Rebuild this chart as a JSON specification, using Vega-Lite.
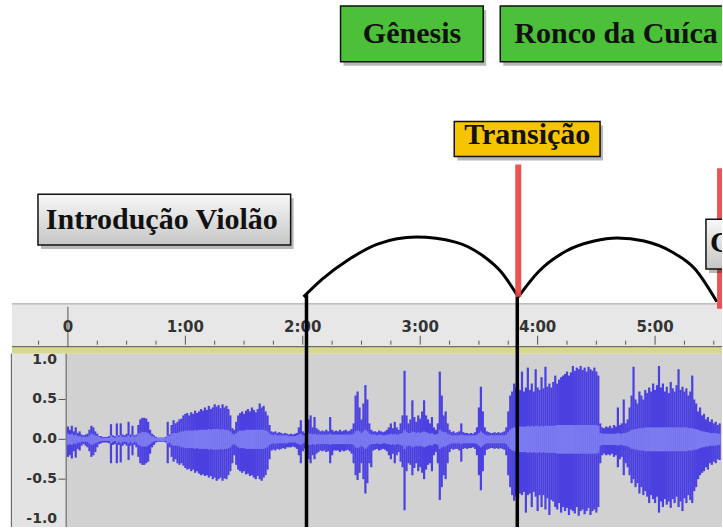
{
"$schema": "https://vega.github.io/schema/vega-lite/v6.json",
"width": 723, "height": 529, "padding": 0,
"autosize": {"type": "fit", "contains": "padding"},
"background": "white",
"config": {"view": {"stroke": null}},
"resolve": {"scale": {"fill": "independent", "color": "independent"}},
"datasets": {
"panels": [
{"k":"ruler","t":-28.6,"t2":334.2,"y":1.7,"y2":1.1625},
{"k":"band","t":-28.6,"t2":334.2,"y":1.1625,"y2":1.075},
{"k":"left","t":-28.9,"t2":-0.9,"y":1.075,"y2":-1.1},
{"k":"wave","t":-0.9,"t2":334.2,"y":1.075,"y2":-1.1}
],
"thin": [
{"k":"a","t":-28.6,"t2":334.2,"y":1.7,"y2":1.7},
{"k":"b","t":-28.6,"t2":334.2,"y":1.1625,"y2":1.1625},
{"k":"b","t":-28.9,"t2":-28.9,"y":1.075,"y2":-1.1},
{"k":"b","t":-0.9,"t2":-0.9,"y":1.075,"y2":-1.1},
{"k":"b","t":0,"t2":0,"y":1.6625,"y2":1.1625}
],
"minor": [{"t":-15},{"t":15},{"t":30},{"t":45},{"t":75},{"t":90},{"t":105},{"t":135},{"t":150},{"t":165},{"t":195},{"t":210},{"t":225},{"t":255},{"t":270},{"t":285},{"t":315},{"t":330}],
"major": [{"t":60},{"t":120},{"t":180},{"t":240},{"t":300}],
"xlab": [{"t":0,"s":"0"},{"t":60,"s":"1:00"},{"t":120,"s":"2:00"},{"t":180,"s":"3:00"},{"t":240,"s":"4:00"},{"t":300,"s":"5:00"}],
"ylab": [{"v":1,"s":"1.0"},{"v":0.5,"s":"0.5"},{"v":0,"s":"0.0"},{"v":-0.5,"s":"-0.5"},{"v":-1,"s":"-1.0"}],
"yticks": [{"v":0.5},{"v":0},{"v":-0.5}],
"wave": [
{"t":0,"h":0.16,"l":-0.22,"r":0.07,"q":-0.07},{"t":1,"h":0.12,"l":-0.2,"r":0.06,"q":-0.06},{"t":2,"h":0.17,"l":-0.24,"r":0.07,"q":-0.07},{"t":3,"h":0.1,"l":-0.15,"r":0.05,"q":-0.05},{"t":4,"h":0.15,"l":-0.23,"r":0.06,"q":-0.06},{"t":5,"h":0.08,"l":-0.12,"r":0.04,"q":-0.04},{"t":6,"h":0.1,"l":-0.14,"r":0.04,"q":-0.04},{"t":7,"h":0.06,"l":-0.08,"r":0.03,"q":-0.03},{"t":8,"h":0.05,"l":-0.06,"r":0.03,"q":-0.03},{"t":9,"h":0.06,"l":-0.08,"r":0.03,"q":-0.03},
{"t":10,"h":0.07,"l":-0.1,"r":0.03,"q":-0.03},{"t":11,"h":0.12,"l":-0.15,"r":0.05,"q":-0.05},{"t":12,"h":0.17,"l":-0.22,"r":0.07,"q":-0.07},{"t":13,"h":0.15,"l":-0.2,"r":0.06,"q":-0.06},{"t":14,"h":0.1,"l":-0.16,"r":0.05,"q":-0.05},{"t":15,"h":0.07,"l":-0.1,"r":0.04,"q":-0.04},{"t":16,"h":0.04,"l":-0.06,"r":0.03,"q":-0.03},{"t":17,"h":0.04,"l":-0.05,"r":0.02,"q":-0.02},{"t":18,"h":0.03,"l":-0.04,"r":0.02,"q":-0.02},{"t":19,"h":0.03,"l":-0.04,"r":0.02,"q":-0.02},
{"t":20,"h":0.03,"l":-0.04,"r":0.02,"q":-0.02},{"t":21,"h":0.04,"l":-0.05,"r":0.02,"q":-0.02},{"t":22,"h":0.19,"l":-0.3,"r":0.05,"q":-0.05},{"t":23,"h":0.05,"l":-0.07,"r":0.03,"q":-0.03},{"t":24,"h":0.04,"l":-0.06,"r":0.02,"q":-0.02},{"t":25,"h":0.2,"l":-0.3,"r":0.05,"q":-0.05},{"t":26,"h":0.05,"l":-0.07,"r":0.03,"q":-0.03},{"t":27,"h":0.2,"l":-0.29,"r":0.05,"q":-0.05},{"t":28,"h":0.06,"l":-0.08,"r":0.03,"q":-0.03},{"t":29,"h":0.05,"l":-0.06,"r":0.03,"q":-0.03},
{"t":30,"h":0.07,"l":-0.08,"r":0.03,"q":-0.03},{"t":31,"h":0.22,"l":-0.26,"r":0.05,"q":-0.05},{"t":32,"h":0.06,"l":-0.08,"r":0.03,"q":-0.03},{"t":33,"h":0.17,"l":-0.2,"r":0.05,"q":-0.05},{"t":34,"h":0.05,"l":-0.07,"r":0.03,"q":-0.03},{"t":35,"h":0.06,"l":-0.1,"r":0.04,"q":-0.04},{"t":36,"h":0.18,"l":-0.22,"r":0.07,"q":-0.07},{"t":37,"h":0.25,"l":-0.3,"r":0.08,"q":-0.08},{"t":38,"h":0.27,"l":-0.32,"r":0.09,"q":-0.09},{"t":39,"h":0.27,"l":-0.32,"r":0.09,"q":-0.09},
{"t":40,"h":0.26,"l":-0.3,"r":0.09,"q":-0.09},{"t":41,"h":0.22,"l":-0.28,"r":0.08,"q":-0.08},{"t":42,"h":0.12,"l":-0.18,"r":0.06,"q":-0.06},{"t":43,"h":0.07,"l":-0.1,"r":0.04,"q":-0.04},{"t":44,"h":0.05,"l":-0.07,"r":0.03,"q":-0.03},{"t":45,"h":0.03,"l":-0.04,"r":0.02,"q":-0.02},{"t":46,"h":0.02,"l":-0.03,"r":0.02,"q":-0.02},{"t":47,"h":0.02,"l":-0.03,"r":0.02,"q":-0.02},{"t":48,"h":0.02,"l":-0.03,"r":0.02,"q":-0.02},{"t":49,"h":0.02,"l":-0.03,"r":0.02,"q":-0.02},
{"t":50,"h":0.03,"l":-0.04,"r":0.02,"q":-0.02},{"t":51,"h":0.22,"l":-0.3,"r":0.05,"q":-0.05},{"t":52,"h":0.06,"l":-0.1,"r":0.04,"q":-0.04},{"t":53,"h":0.18,"l":-0.22,"r":0.07,"q":-0.07},{"t":54,"h":0.24,"l":-0.28,"r":0.08,"q":-0.08},{"t":55,"h":0.2,"l":-0.25,"r":0.08,"q":-0.08},{"t":56,"h":0.22,"l":-0.3,"r":0.08,"q":-0.08},{"t":57,"h":0.25,"l":-0.32,"r":0.09,"q":-0.09},{"t":58,"h":0.26,"l":-0.3,"r":0.1,"q":-0.1},{"t":59,"h":0.3,"l":-0.33,"r":0.1,"q":-0.1},
{"t":60,"h":0.32,"l":-0.36,"r":0.11,"q":-0.11},{"t":61,"h":0.33,"l":-0.38,"r":0.11,"q":-0.11},{"t":62,"h":0.3,"l":-0.37,"r":0.11,"q":-0.11},{"t":63,"h":0.34,"l":-0.4,"r":0.11,"q":-0.11},{"t":64,"h":0.32,"l":-0.38,"r":0.11,"q":-0.11},{"t":65,"h":0.36,"l":-0.42,"r":0.12,"q":-0.12},{"t":66,"h":0.33,"l":-0.4,"r":0.11,"q":-0.11},{"t":67,"h":0.35,"l":-0.43,"r":0.12,"q":-0.12},{"t":68,"h":0.38,"l":-0.45,"r":0.12,"q":-0.12},{"t":69,"h":0.36,"l":-0.44,"r":0.12,"q":-0.12},
{"t":70,"h":0.4,"l":-0.46,"r":0.12,"q":-0.12},{"t":71,"h":0.37,"l":-0.45,"r":0.12,"q":-0.12},{"t":72,"h":0.42,"l":-0.48,"r":0.13,"q":-0.13},{"t":73,"h":0.38,"l":-0.46,"r":0.12,"q":-0.12},{"t":74,"h":0.4,"l":-0.5,"r":0.13,"q":-0.13},{"t":75,"h":0.44,"l":-0.48,"r":0.13,"q":-0.13},{"t":76,"h":0.41,"l":-0.52,"r":0.13,"q":-0.13},{"t":77,"h":0.43,"l":-0.5,"r":0.13,"q":-0.13},{"t":78,"h":0.39,"l":-0.48,"r":0.12,"q":-0.12},{"t":79,"h":0.44,"l":-0.52,"r":0.13,"q":-0.13},
{"t":80,"h":0.4,"l":-0.49,"r":0.12,"q":-0.12},{"t":81,"h":0.42,"l":-0.5,"r":0.12,"q":-0.12},{"t":82,"h":0.38,"l":-0.45,"r":0.11,"q":-0.11},{"t":83,"h":0.3,"l":-0.4,"r":0.1,"q":-0.1},{"t":84,"h":0.14,"l":-0.3,"r":0.07,"q":-0.07},{"t":85,"h":0.12,"l":-0.2,"r":0.06,"q":-0.06},{"t":86,"h":0.22,"l":-0.32,"r":0.08,"q":-0.08},{"t":87,"h":0.3,"l":-0.38,"r":0.1,"q":-0.1},{"t":88,"h":0.33,"l":-0.4,"r":0.11,"q":-0.11},{"t":89,"h":0.35,"l":-0.42,"r":0.11,"q":-0.11},
{"t":90,"h":0.32,"l":-0.4,"r":0.11,"q":-0.11},{"t":91,"h":0.36,"l":-0.44,"r":0.12,"q":-0.12},{"t":92,"h":0.38,"l":-0.43,"r":0.12,"q":-0.12},{"t":93,"h":0.35,"l":-0.46,"r":0.12,"q":-0.12},{"t":94,"h":0.4,"l":-0.45,"r":0.12,"q":-0.12},{"t":95,"h":0.37,"l":-0.48,"r":0.12,"q":-0.12},{"t":96,"h":0.34,"l":-0.5,"r":0.12,"q":-0.12},{"t":97,"h":0.38,"l":-0.46,"r":0.12,"q":-0.12},{"t":98,"h":0.45,"l":-0.5,"r":0.12,"q":-0.12},{"t":99,"h":0.4,"l":-0.52,"r":0.12,"q":-0.12},
{"t":100,"h":0.42,"l":-0.48,"r":0.12,"q":-0.12},{"t":101,"h":0.35,"l":-0.45,"r":0.11,"q":-0.11},{"t":102,"h":0.3,"l":-0.38,"r":0.1,"q":-0.1},{"t":103,"h":0.18,"l":-0.25,"r":0.07,"q":-0.07},{"t":104,"h":0.1,"l":-0.14,"r":0.06,"q":-0.06},{"t":105,"h":0.09,"l":-0.13,"r":0.05,"q":-0.05},{"t":106,"h":0.1,"l":-0.14,"r":0.06,"q":-0.06},{"t":107,"h":0.08,"l":-0.12,"r":0.05,"q":-0.05},{"t":108,"h":0.09,"l":-0.13,"r":0.05,"q":-0.05},{"t":109,"h":0.08,"l":-0.12,"r":0.05,"q":-0.05},
{"t":110,"h":0.07,"l":-0.11,"r":0.05,"q":-0.05},{"t":111,"h":0.08,"l":-0.12,"r":0.05,"q":-0.05},{"t":112,"h":0.07,"l":-0.1,"r":0.05,"q":-0.05},{"t":113,"h":0.06,"l":-0.1,"r":0.04,"q":-0.04},{"t":114,"h":0.07,"l":-0.1,"r":0.04,"q":-0.04},{"t":115,"h":0.06,"l":-0.09,"r":0.04,"q":-0.04},{"t":116,"h":0.07,"l":-0.1,"r":0.04,"q":-0.04},{"t":117,"h":0.08,"l":-0.12,"r":0.05,"q":-0.05},{"t":118,"h":0.15,"l":-0.2,"r":0.06,"q":-0.06},{"t":119,"h":0.24,"l":-0.3,"r":0.07,"q":-0.07},
{"t":120,"h":0.1,"l":-0.15,"r":0.05,"q":-0.05},{"t":121,"h":0.08,"l":-0.12,"r":0.05,"q":-0.05},{"t":122,"h":0.12,"l":-0.14,"r":0.06,"q":-0.06},{"t":123,"h":0.25,"l":-0.25,"r":0.07,"q":-0.07},{"t":124,"h":0.3,"l":-0.3,"r":0.07,"q":-0.07},{"t":125,"h":0.15,"l":-0.2,"r":0.06,"q":-0.06},{"t":126,"h":0.28,"l":-0.25,"r":0.07,"q":-0.07},{"t":127,"h":0.14,"l":-0.18,"r":0.06,"q":-0.06},{"t":128,"h":0.12,"l":-0.16,"r":0.06,"q":-0.06},{"t":129,"h":0.1,"l":-0.14,"r":0.06,"q":-0.06},
{"t":130,"h":0.11,"l":-0.15,"r":0.06,"q":-0.06},{"t":131,"h":0.1,"l":-0.14,"r":0.06,"q":-0.06},{"t":132,"h":0.12,"l":-0.16,"r":0.06,"q":-0.06},{"t":133,"h":0.1,"l":-0.15,"r":0.06,"q":-0.06},{"t":134,"h":0.28,"l":-0.3,"r":0.07,"q":-0.07},{"t":135,"h":0.12,"l":-0.2,"r":0.06,"q":-0.06},{"t":136,"h":0.1,"l":-0.14,"r":0.06,"q":-0.06},{"t":137,"h":0.11,"l":-0.14,"r":0.06,"q":-0.06},{"t":138,"h":0.1,"l":-0.14,"r":0.06,"q":-0.06},{"t":139,"h":0.12,"l":-0.16,"r":0.06,"q":-0.06},
{"t":140,"h":0.1,"l":-0.14,"r":0.06,"q":-0.06},{"t":141,"h":0.11,"l":-0.15,"r":0.06,"q":-0.06},{"t":142,"h":0.12,"l":-0.14,"r":0.06,"q":-0.06},{"t":143,"h":0.1,"l":-0.13,"r":0.06,"q":-0.06},{"t":144,"h":0.11,"l":-0.15,"r":0.06,"q":-0.06},{"t":145,"h":0.13,"l":-0.18,"r":0.06,"q":-0.06},{"t":146,"h":0.2,"l":-0.3,"r":0.07,"q":-0.07},{"t":147,"h":0.55,"l":-0.45,"r":0.1,"q":-0.1},{"t":148,"h":0.6,"l":-0.51,"r":0.11,"q":-0.11},{"t":149,"h":0.4,"l":-0.42,"r":0.1,"q":-0.1},
{"t":150,"h":0.25,"l":-0.3,"r":0.08,"q":-0.08},{"t":151,"h":0.45,"l":-0.5,"r":0.1,"q":-0.1},{"t":152,"h":0.68,"l":-0.68,"r":0.12,"q":-0.12},{"t":153,"h":0.5,"l":-0.55,"r":0.1,"q":-0.1},{"t":154,"h":0.2,"l":-0.3,"r":0.07,"q":-0.07},{"t":155,"h":0.12,"l":-0.35,"r":0.06,"q":-0.06},{"t":156,"h":0.1,"l":-0.14,"r":0.06,"q":-0.06},{"t":157,"h":0.1,"l":-0.13,"r":0.06,"q":-0.06},{"t":158,"h":0.09,"l":-0.12,"r":0.05,"q":-0.05},{"t":159,"h":0.11,"l":-0.14,"r":0.06,"q":-0.06},
{"t":160,"h":0.1,"l":-0.13,"r":0.06,"q":-0.06},{"t":161,"h":0.09,"l":-0.12,"r":0.05,"q":-0.05},{"t":162,"h":0.1,"l":-0.13,"r":0.05,"q":-0.05},{"t":163,"h":0.12,"l":-0.15,"r":0.06,"q":-0.06},{"t":164,"h":0.15,"l":-0.2,"r":0.06,"q":-0.06},{"t":165,"h":0.2,"l":-0.25,"r":0.07,"q":-0.07},{"t":166,"h":0.14,"l":-0.18,"r":0.06,"q":-0.06},{"t":167,"h":0.22,"l":-0.3,"r":0.07,"q":-0.07},{"t":168,"h":0.15,"l":-0.2,"r":0.06,"q":-0.06},{"t":169,"h":0.12,"l":-0.16,"r":0.06,"q":-0.06},
{"t":170,"h":0.2,"l":-0.28,"r":0.07,"q":-0.07},{"t":171,"h":0.3,"l":-0.35,"r":0.08,"q":-0.08},{"t":172,"h":0.86,"l":-0.89,"r":0.12,"q":-0.12},{"t":173,"h":0.3,"l":-0.4,"r":0.09,"q":-0.09},{"t":174,"h":0.2,"l":-0.3,"r":0.08,"q":-0.08},{"t":175,"h":0.25,"l":-0.32,"r":0.08,"q":-0.08},{"t":176,"h":0.49,"l":-0.45,"r":0.1,"q":-0.1},{"t":177,"h":0.28,"l":-0.36,"r":0.09,"q":-0.09},{"t":178,"h":0.22,"l":-0.3,"r":0.08,"q":-0.08},{"t":179,"h":0.3,"l":-0.4,"r":0.09,"q":-0.09},
{"t":180,"h":0.26,"l":-0.35,"r":0.08,"q":-0.08},{"t":181,"h":0.35,"l":-0.42,"r":0.09,"q":-0.09},{"t":182,"h":0.49,"l":-0.5,"r":0.1,"q":-0.1},{"t":183,"h":0.3,"l":-0.38,"r":0.09,"q":-0.09},{"t":184,"h":0.25,"l":-0.32,"r":0.08,"q":-0.08},{"t":185,"h":0.2,"l":-0.3,"r":0.07,"q":-0.07},{"t":186,"h":0.28,"l":-0.4,"r":0.08,"q":-0.08},{"t":187,"h":0.15,"l":-0.2,"r":0.06,"q":-0.06},{"t":188,"h":0.12,"l":-0.16,"r":0.06,"q":-0.06},{"t":189,"h":0.2,"l":-0.3,"r":0.07,"q":-0.07},
{"t":190,"h":0.85,"l":-0.76,"r":0.12,"q":-0.12},{"t":191,"h":0.55,"l":-0.6,"r":0.1,"q":-0.1},{"t":192,"h":0.3,"l":-0.45,"r":0.09,"q":-0.09},{"t":193,"h":0.35,"l":-0.5,"r":0.09,"q":-0.09},{"t":194,"h":0.2,"l":-0.3,"r":0.07,"q":-0.07},{"t":195,"h":0.12,"l":-0.16,"r":0.06,"q":-0.06},{"t":196,"h":0.09,"l":-0.12,"r":0.05,"q":-0.05},{"t":197,"h":0.1,"l":-0.13,"r":0.05,"q":-0.05},{"t":198,"h":0.08,"l":-0.12,"r":0.05,"q":-0.05},{"t":199,"h":0.09,"l":-0.12,"r":0.05,"q":-0.05},
{"t":200,"h":0.1,"l":-0.14,"r":0.05,"q":-0.05},{"t":201,"h":0.2,"l":-0.28,"r":0.06,"q":-0.06},{"t":202,"h":0.09,"l":-0.12,"r":0.05,"q":-0.05},{"t":203,"h":0.08,"l":-0.11,"r":0.05,"q":-0.05},{"t":204,"h":0.08,"l":-0.12,"r":0.05,"q":-0.05},{"t":205,"h":0.07,"l":-0.11,"r":0.05,"q":-0.05},{"t":206,"h":0.08,"l":-0.11,"r":0.05,"q":-0.05},{"t":207,"h":0.07,"l":-0.1,"r":0.05,"q":-0.05},{"t":208,"h":0.09,"l":-0.12,"r":0.05,"q":-0.05},{"t":209,"h":0.15,"l":-0.2,"r":0.06,"q":-0.06},
{"t":210,"h":0.4,"l":-0.45,"r":0.08,"q":-0.08},{"t":211,"h":0.66,"l":-0.64,"r":0.1,"q":-0.1},{"t":212,"h":0.35,"l":-0.4,"r":0.08,"q":-0.08},{"t":213,"h":0.15,"l":-0.2,"r":0.06,"q":-0.06},{"t":214,"h":0.1,"l":-0.13,"r":0.05,"q":-0.05},{"t":215,"h":0.09,"l":-0.12,"r":0.05,"q":-0.05},{"t":216,"h":0.08,"l":-0.11,"r":0.05,"q":-0.05},{"t":217,"h":0.08,"l":-0.11,"r":0.05,"q":-0.05},{"t":218,"h":0.09,"l":-0.12,"r":0.05,"q":-0.05},{"t":219,"h":0.08,"l":-0.11,"r":0.05,"q":-0.05},
{"t":220,"h":0.09,"l":-0.12,"r":0.05,"q":-0.05},{"t":221,"h":0.08,"l":-0.11,"r":0.05,"q":-0.05},{"t":222,"h":0.09,"l":-0.12,"r":0.05,"q":-0.05},{"t":223,"h":0.1,"l":-0.13,"r":0.05,"q":-0.05},{"t":224,"h":0.15,"l":-0.2,"r":0.06,"q":-0.06},{"t":225,"h":0.35,"l":-0.45,"r":0.09,"q":-0.09},{"t":226,"h":0.55,"l":-0.6,"r":0.12,"q":-0.12},{"t":227,"h":0.6,"l":-0.7,"r":0.14,"q":-0.14},{"t":228,"h":0.7,"l":-0.77,"r":0.15,"q":-0.15},{"t":229,"h":0.65,"l":-0.72,"r":0.15,"q":-0.15},
{"t":230,"h":0.7,"l":-0.75,"r":0.16,"q":-0.16},{"t":231,"h":0.62,"l":-0.68,"r":0.16,"q":-0.16},{"t":232,"h":0.85,"l":-0.7,"r":0.16,"q":-0.16},{"t":233,"h":0.6,"l":-0.66,"r":0.16,"q":-0.16},{"t":234,"h":0.65,"l":-0.92,"r":0.16,"q":-0.16},{"t":235,"h":0.9,"l":-0.7,"r":0.17,"q":-0.17},{"t":236,"h":0.62,"l":-0.68,"r":0.16,"q":-0.16},{"t":237,"h":0.7,"l":-0.85,"r":0.17,"q":-0.17},{"t":238,"h":0.6,"l":-0.66,"r":0.16,"q":-0.16},{"t":239,"h":0.88,"l":-0.72,"r":0.17,"q":-0.17},
{"t":240,"h":0.65,"l":-0.9,"r":0.17,"q":-0.17},{"t":241,"h":0.62,"l":-0.7,"r":0.16,"q":-0.16},{"t":242,"h":0.78,"l":-0.85,"r":0.17,"q":-0.17},{"t":243,"h":0.64,"l":-0.7,"r":0.16,"q":-0.16},{"t":244,"h":0.91,"l":-0.88,"r":0.17,"q":-0.17},{"t":245,"h":0.66,"l":-0.74,"r":0.17,"q":-0.17},{"t":246,"h":0.7,"l":-0.95,"r":0.17,"q":-0.17},{"t":247,"h":0.65,"l":-0.76,"r":0.17,"q":-0.17},{"t":248,"h":0.72,"l":-0.78,"r":0.17,"q":-0.17},{"t":249,"h":0.8,"l":-0.85,"r":0.17,"q":-0.17},
{"t":250,"h":0.7,"l":-0.88,"r":0.18,"q":-0.18},{"t":251,"h":0.75,"l":-0.8,"r":0.18,"q":-0.18},{"t":252,"h":0.78,"l":-0.92,"r":0.18,"q":-0.18},{"t":253,"h":0.8,"l":-0.85,"r":0.18,"q":-0.18},{"t":254,"h":0.82,"l":-0.9,"r":0.18,"q":-0.18},{"t":255,"h":0.85,"l":-0.86,"r":0.18,"q":-0.18},{"t":256,"h":0.8,"l":-0.95,"r":0.18,"q":-0.18},{"t":257,"h":0.84,"l":-0.88,"r":0.18,"q":-0.18},{"t":258,"h":0.92,"l":-0.9,"r":0.18,"q":-0.18},{"t":259,"h":0.86,"l":-0.93,"r":0.18,"q":-0.18},
{"t":260,"h":0.9,"l":-0.85,"r":0.18,"q":-0.18},{"t":261,"h":0.88,"l":-0.96,"r":0.18,"q":-0.18},{"t":262,"h":0.92,"l":-0.9,"r":0.18,"q":-0.18},{"t":263,"h":0.87,"l":-0.88,"r":0.18,"q":-0.18},{"t":264,"h":0.9,"l":-0.94,"r":0.18,"q":-0.18},{"t":265,"h":0.85,"l":-0.9,"r":0.18,"q":-0.18},{"t":266,"h":0.91,"l":-0.86,"r":0.18,"q":-0.18},{"t":267,"h":0.88,"l":-0.95,"r":0.18,"q":-0.18},{"t":268,"h":0.86,"l":-0.9,"r":0.18,"q":-0.18},{"t":269,"h":0.9,"l":-0.88,"r":0.18,"q":-0.18},
{"t":270,"h":0.85,"l":-0.92,"r":0.18,"q":-0.18},{"t":271,"h":0.8,"l":-0.85,"r":0.17,"q":-0.17},{"t":272,"h":0.2,"l":-0.3,"r":0.08,"q":-0.08},{"t":273,"h":0.15,"l":-0.2,"r":0.07,"q":-0.07},{"t":274,"h":0.14,"l":-0.18,"r":0.07,"q":-0.07},{"t":275,"h":0.16,"l":-0.2,"r":0.07,"q":-0.07},{"t":276,"h":0.15,"l":-0.19,"r":0.07,"q":-0.07},{"t":277,"h":0.17,"l":-0.2,"r":0.07,"q":-0.07},{"t":278,"h":0.14,"l":-0.18,"r":0.07,"q":-0.07},{"t":279,"h":0.18,"l":-0.22,"r":0.07,"q":-0.07},
{"t":280,"h":0.16,"l":-0.2,"r":0.07,"q":-0.07},{"t":281,"h":0.4,"l":-0.35,"r":0.08,"q":-0.08},{"t":282,"h":0.18,"l":-0.25,"r":0.07,"q":-0.07},{"t":283,"h":0.2,"l":-0.22,"r":0.07,"q":-0.07},{"t":284,"h":0.5,"l":-0.45,"r":0.08,"q":-0.08},{"t":285,"h":0.2,"l":-0.3,"r":0.08,"q":-0.08},{"t":286,"h":0.25,"l":-0.35,"r":0.09,"q":-0.09},{"t":287,"h":0.4,"l":-0.45,"r":0.1,"q":-0.1},{"t":288,"h":0.55,"l":-0.55,"r":0.12,"q":-0.12},{"t":289,"h":0.91,"l":-0.5,"r":0.12,"q":-0.12},
{"t":290,"h":0.5,"l":-0.6,"r":0.13,"q":-0.13},{"t":291,"h":0.45,"l":-0.55,"r":0.13,"q":-0.13},{"t":292,"h":0.6,"l":-0.68,"r":0.14,"q":-0.14},{"t":293,"h":0.55,"l":-0.6,"r":0.14,"q":-0.14},{"t":294,"h":0.5,"l":-0.7,"r":0.14,"q":-0.14},{"t":295,"h":0.62,"l":-0.65,"r":0.15,"q":-0.15},{"t":296,"h":0.58,"l":-0.72,"r":0.15,"q":-0.15},{"t":297,"h":0.65,"l":-0.8,"r":0.15,"q":-0.15},{"t":298,"h":0.6,"l":-0.7,"r":0.15,"q":-0.15},{"t":299,"h":0.7,"l":-0.75,"r":0.15,"q":-0.15},
{"t":300,"h":0.62,"l":-0.8,"r":0.15,"q":-0.15},{"t":301,"h":0.68,"l":-0.72,"r":0.15,"q":-0.15},{"t":302,"h":0.92,"l":-0.92,"r":0.15,"q":-0.15},{"t":303,"h":0.65,"l":-0.78,"r":0.15,"q":-0.15},{"t":304,"h":0.7,"l":-0.85,"r":0.15,"q":-0.15},{"t":305,"h":0.6,"l":-0.75,"r":0.15,"q":-0.15},{"t":306,"h":0.66,"l":-0.82,"r":0.15,"q":-0.15},{"t":307,"h":0.58,"l":-0.78,"r":0.15,"q":-0.15},{"t":308,"h":0.72,"l":-0.86,"r":0.15,"q":-0.15},{"t":309,"h":0.64,"l":-0.75,"r":0.15,"q":-0.15},
{"t":310,"h":0.6,"l":-0.8,"r":0.15,"q":-0.15},{"t":311,"h":0.68,"l":-0.72,"r":0.15,"q":-0.15},{"t":312,"h":0.88,"l":-0.85,"r":0.15,"q":-0.15},{"t":313,"h":0.62,"l":-0.78,"r":0.15,"q":-0.15},{"t":314,"h":0.66,"l":-0.9,"r":0.15,"q":-0.15},{"t":315,"h":0.6,"l":-0.74,"r":0.15,"q":-0.15},{"t":316,"h":0.64,"l":-0.8,"r":0.15,"q":-0.15},{"t":317,"h":0.55,"l":-0.7,"r":0.14,"q":-0.14},{"t":318,"h":0.6,"l":-0.76,"r":0.14,"q":-0.14},{"t":319,"h":0.8,"l":-0.8,"r":0.14,"q":-0.14},
{"t":320,"h":0.5,"l":-0.65,"r":0.13,"q":-0.13},{"t":321,"h":0.45,"l":-0.6,"r":0.13,"q":-0.13},{"t":322,"h":0.35,"l":-0.5,"r":0.12,"q":-0.12},{"t":323,"h":0.4,"l":-0.45,"r":0.11,"q":-0.11},{"t":324,"h":0.3,"l":-0.42,"r":0.1,"q":-0.1},{"t":325,"h":0.32,"l":-0.4,"r":0.1,"q":-0.1},{"t":326,"h":0.25,"l":-0.35,"r":0.09,"q":-0.09},{"t":327,"h":0.28,"l":-0.38,"r":0.09,"q":-0.09},{"t":328,"h":0.22,"l":-0.3,"r":0.08,"q":-0.08},{"t":329,"h":0.25,"l":-0.32,"r":0.08,"q":-0.08},
{"t":330,"h":0.2,"l":-0.28,"r":0.08,"q":-0.08},{"t":331,"h":0.22,"l":-0.3,"r":0.08,"q":-0.08},{"t":332,"h":0.18,"l":-0.25,"r":0.07,"q":-0.07},{"t":333,"h":0.2,"l":-0.26,"r":0.07,"q":-0.07}
],
"black": [{"t":121.9,"y":1.8125,"y2":-1.1},{"t":229.6,"y":1.7875,"y2":-1.1}],
"red": [{"t":230.1,"y":3.45,"y2":1.79},{"t":333.2,"y":3.4,"y2":1.64}],
"arcs": [
{"a":1,"t":120.4,"u":1.7875},{"a":1,"t":130.1,"u":2.0125},{"a":1,"t":143.9,"u":2.2625},{"a":1,"t":158.2,"u":2.45},{"a":1,"t":178.1,"u":2.5375},{"a":1,"t":198.0,"u":2.475},{"a":1,"t":212.2,"u":2.3},{"a":1,"t":221.4,"u":2.1},{"a":1,"t":230.1,"u":1.7875},
{"a":2,"t":230.1,"u":1.7875},{"a":2,"t":240.3,"u":2.1},{"a":2,"t":254.6,"u":2.3625},{"a":2,"t":268.9,"u":2.4875},{"a":2,"t":280.6,"u":2.525},{"a":2,"t":294.4,"u":2.4875},{"a":2,"t":308.7,"u":2.35},{"a":2,"t":320.4,"u":2.1375},{"a":2,"t":331.6,"u":1.725}
],
"boxes": [
{"k":"g","t":139.3,"t2":212.2,"y":5.4375,"y2":4.7375},
{"k":"g","t":220.9,"t2":345,"y":5.4375,"y2":4.7375},
{"k":"y","t":197.4,"t2":271.9,"y":3.9875,"y2":3.55}
],
"grayboxes": [
{"t":-15.3,"t2":113.8,"y":3.075,"y2":2.4375},
{"t":326.0,"t2":345,"y":2.7625,"y2":2.1375}
],
"labelsC": [
{"s":"Gênesis","t":175.8,"u":4.975},
{"s":"Transição","t":234.7,"u":3.7},
{"s":"Introdução Violão","t":48,"u":2.6375}
],
"labelsL": [
{"s":"Ronco da Cuíca","t":228.1,"u":4.975},
{"s":"C","t":328.1,"u":2.35}
]
},
"layer": [
{"data":{"name":"panels"},"mark":{"type":"rect"},
 "encoding":{
  "x":{"field":"t","type":"quantitative","scale":{"domain":[-34.7,334.2],"nice":false,"zero":false},"axis":null},
  "x2":{"field":"t2"},
  "y":{"field":"y","type":"quantitative","scale":{"domain":[-1.1,5.5125],"nice":false,"zero":false},"axis":null},
  "y2":{"field":"y2"},
  "fill":{"field":"k","type":"nominal","scale":{"domain":["ruler","band","left","wave"],"range":["#e7e7e7","#d8d88e","#e3e3e3","#d1d1d1"]},"legend":null}
 }},
{"data":{"name":"thin"},"mark":{"type":"rule","strokeWidth":1},
 "encoding":{
  "x":{"field":"t","type":"quantitative","scale":{"domain":[-34.7,334.2],"nice":false,"zero":false},"axis":null},
  "x2":{"field":"t2"},
  "y":{"field":"y","type":"quantitative","scale":{"domain":[-1.1,5.5125],"nice":false,"zero":false},"axis":null},
  "y2":{"field":"y2"},
  "color":{"field":"k","type":"nominal","scale":{"domain":["a","b"],"range":["#a0a0a0","#555555"]},"legend":null}
 }},
{"data":{"name":"minor"},"mark":{"type":"rule","strokeWidth":1,"color":"#555555"},
 "encoding":{
  "x":{"field":"t","type":"quantitative","scale":{"domain":[-34.7,334.2],"nice":false,"zero":false},"axis":null},
  "y":{"datum":1.1875,"type":"quantitative","scale":{"domain":[-1.1,5.5125],"nice":false,"zero":false},"axis":null},
  "y2":{"datum":1.2375}
 }},
{"data":{"name":"major"},"mark":{"type":"rule","strokeWidth":1,"color":"#555555"},
 "encoding":{
  "x":{"field":"t","type":"quantitative","scale":{"domain":[-34.7,334.2],"nice":false,"zero":false},"axis":null},
  "y":{"datum":1.1875,"type":"quantitative","scale":{"domain":[-1.1,5.5125],"nice":false,"zero":false},"axis":null},
  "y2":{"datum":1.3}
 }},
{"data":{"name":"yticks"},"mark":{"type":"rule","strokeWidth":1,"color":"#555555"},
 "encoding":{
  "x":{"datum":-4.8,"type":"quantitative","scale":{"domain":[-34.7,334.2],"nice":false,"zero":false},"axis":null},
  "x2":{"datum":-1.2},
  "y":{"field":"v","type":"quantitative","scale":{"domain":[-1.1,5.5125],"nice":false,"zero":false},"axis":null}
 }},
{"data":{"name":"xlab"},"mark":{"type":"text","align":"center","baseline":"middle","font":"DejaVu Sans","fontWeight":"bold","fontSize":15,"color":"#333333"},
 "encoding":{
  "x":{"field":"t","type":"quantitative","scale":{"domain":[-34.7,334.2],"nice":false,"zero":false},"axis":null},
  "y":{"datum":1.4125,"type":"quantitative","scale":{"domain":[-1.1,5.5125],"nice":false,"zero":false},"axis":null},
  "text":{"field":"s"}
 }},
{"data":{"name":"ylab"},"mark":{"type":"text","align":"right","baseline":"middle","font":"DejaVu Sans","fontWeight":"bold","fontSize":14,"color":"#333333"},
 "encoding":{
  "x":{"datum":-5.6,"type":"quantitative","scale":{"domain":[-34.7,334.2],"nice":false,"zero":false},"axis":null},
  "y":{"field":"v","type":"quantitative","scale":{"domain":[-1.1,5.5125],"nice":false,"zero":false},"axis":null},
  "text":{"field":"s"}
 }},
{"data":{"name":"wave"},"mark":{"type":"rule","strokeWidth":2.2,"color":"#4b40e0"},
 "encoding":{
  "x":{"field":"t","type":"quantitative","scale":{"domain":[-34.7,334.2],"nice":false,"zero":false},"axis":null},
  "y":{"field":"h","type":"quantitative","scale":{"domain":[-1.1,5.5125],"nice":false,"zero":false},"axis":null},
  "y2":{"field":"l"}
 }},
{"data":{"name":"wave"},"mark":{"type":"rule","strokeWidth":2.2,"color":"#7c7af0"},
 "encoding":{
  "x":{"field":"t","type":"quantitative","scale":{"domain":[-34.7,334.2],"nice":false,"zero":false},"axis":null},
  "y":{"field":"r","type":"quantitative","scale":{"domain":[-1.1,5.5125],"nice":false,"zero":false},"axis":null},
  "y2":{"field":"q"}
 }},
{"data":{"name":"black"},"mark":{"type":"rule","strokeWidth":3.5,"color":"#000000"},
 "encoding":{
  "x":{"field":"t","type":"quantitative","scale":{"domain":[-34.7,334.2],"nice":false,"zero":false},"axis":null},
  "y":{"field":"y","type":"quantitative","scale":{"domain":[-1.1,5.5125],"nice":false,"zero":false},"axis":null},
  "y2":{"field":"y2"}
 }},
{"data":{"name":"arcs"},"mark":{"type":"line","interpolate":"monotone","strokeWidth":3,"color":"#000000"},
 "encoding":{
  "x":{"field":"t","type":"quantitative","scale":{"domain":[-34.7,334.2],"nice":false,"zero":false},"axis":null},
  "y":{"field":"u","type":"quantitative","scale":{"domain":[-1.1,5.5125],"nice":false,"zero":false},"axis":null},
  "detail":{"field":"a","type":"nominal"}
 }},
{"data":{"name":"red"},"mark":{"type":"rule","strokeWidth":6,"color":"#ea4545","opacity":0.92,"clip":true},
 "encoding":{
  "x":{"field":"t","type":"quantitative","scale":{"domain":[-34.7,334.2],"nice":false,"zero":false},"axis":null},
  "y":{"field":"y","type":"quantitative","scale":{"domain":[-1.1,5.5125],"nice":false,"zero":false},"axis":null},
  "y2":{"field":"y2"}
 }},
{"data":{"name":"boxes"},"mark":{"type":"rect","clip":true,"fill":"#000000","opacity":0.28,"xOffset":3,"x2Offset":3,"yOffset":4,"y2Offset":4},
 "encoding":{
  "x":{"field":"t","type":"quantitative","scale":{"domain":[-34.7,334.2],"nice":false,"zero":false},"axis":null},
  "x2":{"field":"t2"},
  "y":{"field":"y","type":"quantitative","scale":{"domain":[-1.1,5.5125],"nice":false,"zero":false},"axis":null},
  "y2":{"field":"y2"}
 }},
{"data":{"name":"grayboxes"},"mark":{"type":"rect","clip":true,"fill":"#000000","opacity":0.28,"xOffset":3,"x2Offset":3,"yOffset":4,"y2Offset":4},
 "encoding":{
  "x":{"field":"t","type":"quantitative","scale":{"domain":[-34.7,334.2],"nice":false,"zero":false},"axis":null},
  "x2":{"field":"t2"},
  "y":{"field":"y","type":"quantitative","scale":{"domain":[-1.1,5.5125],"nice":false,"zero":false},"axis":null},
  "y2":{"field":"y2"}
 }},
{"data":{"name":"boxes"},"mark":{"type":"rect","clip":true,"stroke":"#111111","strokeWidth":1.5},
 "encoding":{
  "x":{"field":"t","type":"quantitative","scale":{"domain":[-34.7,334.2],"nice":false,"zero":false},"axis":null},
  "x2":{"field":"t2"},
  "y":{"field":"y","type":"quantitative","scale":{"domain":[-1.1,5.5125],"nice":false,"zero":false},"axis":null},
  "y2":{"field":"y2"},
  "fill":{"field":"k","type":"nominal","scale":{"domain":["g","y"],"range":["#4cc038","#f6c500"]},"legend":null}
 }},
{"data":{"name":"grayboxes"},"mark":{"type":"rect","clip":true,"stroke":"#111111","strokeWidth":1.5,"fill":{"gradient":"linear","x1":0,"y1":0,"x2":0,"y2":1,"stops":[{"offset":0,"color":"#f8f8f8"},{"offset":1,"color":"#c6c6c6"}]}},
 "encoding":{
  "x":{"field":"t","type":"quantitative","scale":{"domain":[-34.7,334.2],"nice":false,"zero":false},"axis":null},
  "x2":{"field":"t2"},
  "y":{"field":"y","type":"quantitative","scale":{"domain":[-1.1,5.5125],"nice":false,"zero":false},"axis":null},
  "y2":{"field":"y2"}
 }},
{"data":{"name":"labelsC"},"mark":{"type":"text","clip":true,"align":"center","baseline":"alphabetic","font":"Liberation Serif","fontWeight":"bold","fontSize":30,"color":"#111111"},
 "encoding":{
  "x":{"field":"t","type":"quantitative","scale":{"domain":[-34.7,334.2],"nice":false,"zero":false},"axis":null},
  "y":{"field":"u","type":"quantitative","scale":{"domain":[-1.1,5.5125],"nice":false,"zero":false},"axis":null},
  "text":{"field":"s"}
 }},
{"data":{"name":"labelsL"},"mark":{"type":"text","clip":true,"align":"left","baseline":"alphabetic","font":"Liberation Serif","fontWeight":"bold","fontSize":30,"color":"#111111"},
 "encoding":{
  "x":{"field":"t","type":"quantitative","scale":{"domain":[-34.7,334.2],"nice":false,"zero":false},"axis":null},
  "y":{"field":"u","type":"quantitative","scale":{"domain":[-1.1,5.5125],"nice":false,"zero":false},"axis":null},
  "text":{"field":"s"}
 }}
]
}
